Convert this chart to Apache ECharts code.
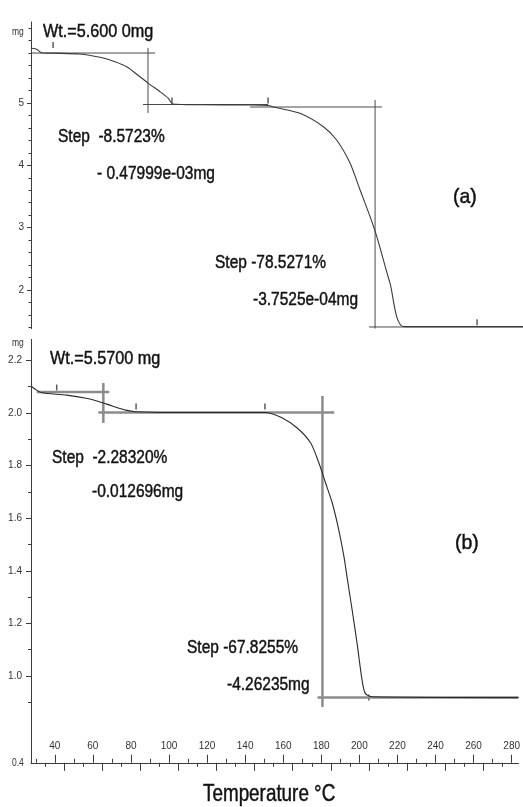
<!DOCTYPE html>
<html>
<head>
<meta charset="utf-8">
<script src="https://cdn.jsdelivr.net/npm/echarts@6.0.0/dist/echarts.min.js"></script>
<style>
  html, body { margin: 0; padding: 0; background: #fff; }
  #chart { width: 523px; height: 807px; }
</style>
</head>
<body>
<div id="chart"></div>
<script>
// Shared temperature span of both thermograms (°C)
const tempMin = 27.5;
const tempMax = 283.6;

// Temperature tick values (°C)
const tempLabels = [40, 60, 80, 100, 120, 140, 160, 180, 200, 220, 240, 260, 280];
const tempTicksTens = [30, 50, 70, 90, 110, 130, 150, 170, 190, 210, 230, 250, 270];
const tempTicksLongFives = [45, 65, 85, 105, 125, 145, 165, 185, 205, 225, 245, 265];
const tempTicksShortFives = [35, 55, 75, 95, 115, 135, 155, 175, 195, 215, 235, 255, 275];

// Sample (a): mass (mg) against temperature (°C)
const massLabelsA = [2, 3, 4, 5];
const massTicksA = [1.4, 1.6, 1.8, 2.2, 2.4, 2.6, 2.8, 3.2, 3.4, 3.6, 3.8, 4.2, 4.4, 4.6, 4.8, 5.2, 5.4, 5.6, 5.8, 6.0, 6.2];
const curveA = [
  [27.9, 5.878], [30.5, 5.862], [33.1, 5.807], [40.0, 5.800], [53.0, 5.786],
  [63.4, 5.733], [71.2, 5.663], [77.3, 5.582], [84.2, 5.422], [88.6, 5.316],
  [94.7, 5.181], [99.0, 5.075], [101.3, 4.984], [115.5, 4.972], [141.5, 4.968],
  [150.9, 4.960], [154.5, 4.931], [167.5, 4.835], [179.7, 4.620], [186.6, 4.406],
  [193.6, 4.033], [198.8, 3.604], [204.0, 3.176], [207.5, 2.855], [214.4, 2.107],
  [221.7, 1.411], [283.6, 1.411]
];
// Step construction lines of (a): baselines and mid-step verticals
const stepLinesA = [
  [[27.5, 5.802], [92.1, 5.802]],
  [[88.4, 5.882], [88.4, 4.840]],
  [[85.8, 4.976], [150.9, 4.976]],
  [[141.5, 4.936], [210.2, 4.936]],
  [[206.6, 5.048], [206.6, 1.380]],
  [[203.5, 1.406], [283.6, 1.406]]
];
const markersA = [[39.0, 5.93], [100.9, 5.04], [150.9, 5.04], [259.7, 1.48]];

// Sample (b): mass (mg) against temperature (°C)
const massLabelsB = [1.0, 1.2, 1.4, 1.6, 1.8, 2.0, 2.2];
const massTicksB = [0.9, 1.1, 1.3, 1.5, 1.7, 1.9, 2.1];
const curveB = [
  [27.9, 2.100], [30.5, 2.087], [33.1, 2.077], [46.1, 2.068], [56.5, 2.056],
  [63.4, 2.043], [70.2, 2.027], [77.3, 2.011], [82.5, 2.005], [100.0, 2.002],
  [150.2, 2.002], [158.8, 1.984], [167.5, 1.942], [174.5, 1.885], [178.8, 1.809],
  [182.3, 1.733], [185.8, 1.657], [189.2, 1.555], [191.9, 1.454], [193.6, 1.373],
  [196.2, 1.251], [198.8, 1.124], [201.4, 0.985], [203.1, 0.934], [206.6, 0.921],
  [283.6, 0.918]
];
const stepLinesB = [
  [[30.5, 2.080], [68.6, 2.080]],
  [[65.5, 2.114], [65.5, 1.962]],
  [[62.9, 2.002], [186.8, 2.002]],
  [[180.6, 2.065], [180.6, 0.882]],
  [[178.0, 0.918], [283.6, 0.918]]
];
const markersB = [[41.0, 2.097], [82.7, 2.025], [150.4, 2.025], [205.0, 0.918]];

const FONT = "'Liberation Sans', Arial, sans-serif";
const axisColor = '#3c3c3c';
const labelStyle = { color: '#333', fontSize: 10, fontFamily: FONT };

function tempAxis(grid, extra) {
  return Object.assign({
    gridIndex: grid, type: 'value', min: tempMin, max: tempMax, position: 'bottom',
    splitLine: { show: false }, axisLine: { show: false },
    axisLabel: { show: false }, axisTick: { show: false }
  }, extra);
}

function massAxis(grid, min, max, extra) {
  return Object.assign({
    gridIndex: grid, type: 'value', min: min, max: max, position: 'left',
    splitLine: { show: false }, axisLine: { show: false },
    axisLabel: { show: false }, axisTick: { show: false }
  }, extra);
}

function stepSeries(lines, xi, yi, color, width) {
  return lines.map(seg => ({
    type: 'line', xAxisIndex: xi, yAxisIndex: yi, data: seg,
    symbol: 'none', silent: true, animation: false,
    lineStyle: { color: color, width: width }
  }));
}

const option = {
  backgroundColor: '#fff',
  animation: false,
  grid: [
    { left: 31, right: 0, top: 22, height: 306.6 },
    { left: 31, right: 0, top: 339.4, height: 423.4 }
  ],
  xAxis: [
    tempAxis(0, {}),
    tempAxis(1, {
      axisLine: { show: true, lineStyle: { color: axisColor, width: 1 } },
      axisTick: { show: true, inside: true, length: 8, customValues: tempLabels, lineStyle: { color: axisColor } },
      axisLabel: { show: true, inside: true, margin: 12, customValues: tempLabels, ...labelStyle }
    }),
    tempAxis(1, { axisTick: { show: true, inside: true, length: 4, customValues: tempTicksTens, lineStyle: { color: axisColor } } }),
    tempAxis(1, { axisTick: { show: true, inside: false, length: 8, customValues: tempTicksLongFives, lineStyle: { color: axisColor } } }),
    tempAxis(1, { axisTick: { show: true, inside: false, length: 4, customValues: tempTicksShortFives, lineStyle: { color: axisColor } } })
  ],
  yAxis: [
    massAxis(0, 1.38, 6.3, {
      axisLine: { show: true, lineStyle: { color: axisColor, width: 1 } },
      axisTick: { show: true, length: 4, customValues: massLabelsA, lineStyle: { color: axisColor } },
      axisLabel: { show: true, margin: 7, customValues: massLabelsA, ...labelStyle }
    }),
    massAxis(0, 1.38, 6.3, { axisTick: { show: true, length: 2.5, customValues: massTicksA, lineStyle: { color: axisColor } } }),
    massAxis(1, 0.67, 2.28, {
      axisLine: { show: true, lineStyle: { color: axisColor, width: 1 } },
      axisTick: { show: true, length: 5, customValues: massLabelsB, lineStyle: { color: axisColor } },
      axisLabel: { show: true, margin: 9, customValues: massLabelsB, formatter: v => v.toFixed(1), ...labelStyle }
    }),
    massAxis(1, 0.67, 2.28, { axisTick: { show: true, length: 3, customValues: massTicksB, lineStyle: { color: axisColor } } })
  ],
  series: [
    ...stepSeries(stepLinesA, 0, 0, '#4a4a4a', 1),
    { type: 'line', xAxisIndex: 0, yAxisIndex: 0, data: curveA, symbol: 'none', smooth: 0.25,
      lineStyle: { color: '#3a3a3a', width: 1.1 } },
    { type: 'scatter', xAxisIndex: 0, yAxisIndex: 0, data: markersA, symbol: 'rect', symbolSize: [1.5, 6],
      itemStyle: { color: '#333' } },
    ...stepSeries(stepLinesB, 1, 2, '#8c8c8c', 2.5),
    { type: 'line', xAxisIndex: 1, yAxisIndex: 2, data: curveB, symbol: 'none', smooth: 0.25,
      lineStyle: { color: '#2a2a2a', width: 1.1 } },
    { type: 'scatter', xAxisIndex: 1, yAxisIndex: 2, data: markersB, symbol: 'rect', symbolSize: [1.5, 6],
      itemStyle: { color: '#333' } }
  ]
};

// Annotation text: [text, left x, centre y, font size, horizontal squeeze]
const notes = [
  ['Wt.=5.600 0mg', 43, 32, 18, 0.9],
  ['Step  -8.5723%', 58, 137, 18, 0.86],
  ['- 0.47999e-03mg', 97, 174, 18, 0.86],
  ['(a)', 453, 197, 21, 0.93],
  ['Step -78.5271%', 215, 263, 18, 0.86],
  ['-3.7525e-04mg', 253, 300, 18, 0.86],
  ['Wt.=5.5700 mg', 50, 359, 18, 0.9],
  ['Step  -2.28320%', 52, 458, 18, 0.86],
  ['-0.012696mg', 92, 492, 18, 0.86],
  ['(b)', 455, 543, 21, 0.93],
  ['Step -67.8255%', 187, 648, 18, 0.86],
  ['-4.26235mg', 227, 685, 18, 0.86],
  ['Temperature °C', 203, 795, 23, 0.82]
];
const smallNotes = [
  ['mg', 12, 32],
  ['mg', 12, 343],
  ['0.4', 12, 763]
];

option.graphic = [
  ...notes.map(([t, x, y, s, k]) => ({
    type: 'text', x: x, y: y, scaleX: k, silent: true,
    style: {
      text: t, font: s + 'px ' + FONT, fill: '#111', stroke: '#111', lineWidth: 0.45,
      textAlign: 'left', textVerticalAlign: 'middle'
    }
  })),
  ...smallNotes.map(([t, x, y]) => ({
    type: 'text', x: x, y: y, scaleX: 0.85, silent: true,
    style: { text: t, font: '10px ' + FONT, fill: '#333', textAlign: 'left', textVerticalAlign: 'middle' }
  }))
];

const chart = echarts.init(document.getElementById('chart'), null, { renderer: 'canvas' });
chart.setOption(option);
</script>
</body>
</html>
